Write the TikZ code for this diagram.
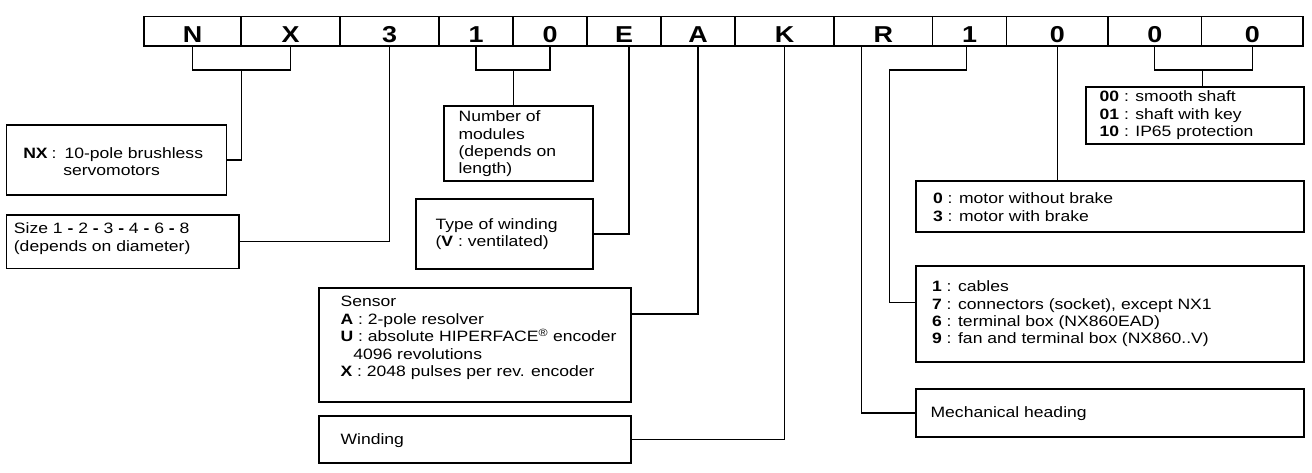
\documentclass[tikz,border=0pt]{standalone}
\usepackage{fontspec}
\setmainfont{Liberation Sans}[FakeStretch=1.17]
\begin{document}
\begin{tikzpicture}[x=1pt,y=-1pt,line width=1.2pt,
  cell/.style={draw,inner sep=0pt,minimum height=29.3pt,text height=22.5pt,text depth=0pt,font=\fontsize{23}{26}\selectfont\bfseries},
  infobox/.style={draw,inner sep=0pt},
  infotext/.style={anchor=west,align=left,inner sep=0pt,font=\fontsize{15}{17.4}\selectfont}]
\useasboundingbox (0,0) rectangle (1312,473);
% code cells
\node[cell,minimum width=97pt]   (c1)  at (192.5,31.35) {N};
\node[cell,minimum width=99pt]   (c2)  at (290.5,31.35) {X};
\node[cell,minimum width=99pt]   (c3)  at (389.5,31.35) {3};
\node[cell,minimum width=74pt]   (c4)  at (476,31.35) {1};
\node[cell,minimum width=74pt]   (c5)  at (550,31.35) {0};
\node[cell,minimum width=74pt]   (c6)  at (624,31.35) {E};
\node[cell,minimum width=74pt]   (c7)  at (698,31.35) {A};
\node[cell,minimum width=99pt]   (c8)  at (784.5,31.35) {K};
\node[cell,minimum width=98.7pt] (c9)  at (883.35,31.35) {R};
\node[cell,minimum width=74pt]   (c10) at (969.7,31.35) {1};
\node[cell,minimum width=101.3pt](c11) at (1057.35,31.35) {0};
\node[cell,minimum width=93.7pt] (c12) at (1154.85,31.35) {0};
\node[cell,minimum width=101.3pt](c13) at (1252.35,31.35) {0};
% boxes
\node[infobox,minimum width=220pt,minimum height=70pt]   (nx)     at (116.7,160) {};
\node[infobox,minimum width=232.3pt,minimum height=53.3pt] (size) at (122.85,241.65) {};
\node[infobox,minimum width=149pt,minimum height=75pt]   (mod)    at (518.5,143.5) {};
\node[infobox,minimum width=177pt,minimum height=70pt]   (type)   at (504.5,234) {};
\node[infobox,minimum width=312pt,minimum height=114pt]  (sensor) at (475,345) {};
\node[infobox,minimum width=312pt,minimum height=47pt]   (windg)  at (475,439.5) {};
\node[infobox,minimum width=218pt,minimum height=57pt]   (shaft)  at (1195,115.5) {};
\node[infobox,minimum width=388pt,minimum height=51pt]   (brake)  at (1110,206.5) {};
\node[infobox,minimum width=388pt,minimum height=96pt]   (cables) at (1110,314) {};
\node[infobox,minimum width=388pt,minimum height=48pt]   (mech)   at (1110,413) {};
% texts
\node[infotext] (nxt) at (22.7,161.7) {\textbf{NX}\hspace{4pt}:\hspace{8pt}10-pole brushless\\\hspace*{40pt}servomotors};
\node[infotext] (sizet) at (13.3,238.5) {Size 1 \textbf{-} 2 \textbf{-} 3 \textbf{-} 4 \textbf{-} 6 \textbf{-} 8\\(depends on diameter)};
\node[infotext] (modt) at (458,144) {Number of\\modules\\(depends on\\length)};
\node[infotext] (typet) at (435,234) {Type of winding\\(\textbf{V} : ventilated)};
\node[infotext] (sensort) at (340,338) {Sensor\\\textbf{A} : 2-pole resolver\\\textbf{U} : absolute HIPERFACE\textsuperscript{®} encoder\\\phantom{\textbf{U}}4096 revolutions\\\textbf{X} : 2048 pulses per rev. encoder};
\node[infotext] (windgt) at (340,441) {Winding};
\node[infotext] (shaftt) at (1099,115.5) {\textbf{00} : smooth shaft\\\textbf{01} : shaft with key\\\textbf{10} : IP65 protection};
\node[infotext] (braket) at (932.5,207) {\textbf{0} : motor without brake\\\textbf{3} : motor with brake};
\node[infotext] (cablest) at (931.5,314) {\textbf{1} : cables\\\textbf{7} : connectors (socket), except NX1\\\textbf{6} : terminal box (NX860EAD)\\\textbf{9} : fan and terminal box (NX860..V)};
\node[infotext] (mecht) at (930,414) {Mechanical heading};
% connectors
\coordinate (by) at (0,70);
\coordinate (oneb) at (889.3,70);
\draw (c1.south) -- (c1.south |- by) -- (c2.south |- by) -- (c2.south);
\draw (c1.south east |- by) |- (nx.east);
\draw (c3.south) |- (size.east);
\draw (c4.south) -- (c4.south |- by) -- (c5.south |- by) -- (c5.south);
\draw (c4.south east |- by) -- (c4.south east |- mod.north);
\draw ([xshift=5pt]c6.south) |- (type.east);
\draw (c7.south) |- ([yshift=31pt]sensor.east);
\draw (c8.south) |- (windg.east);
\draw ([xshift=-21.7pt]c9.south) |- (mech.west);
\draw ([xshift=-3pt]c10.south) |- (oneb) |- ([yshift=11.3pt]cables.west);
\draw (c11.south) -- (c11.south |- brake.north);
\draw (c12.south) -- (c12.south |- by) -- (c13.south |- by) -- (c13.south);
\draw (c12.south east |- by) -- (c12.south east |- shaft.north);
\end{tikzpicture}
\end{document}
